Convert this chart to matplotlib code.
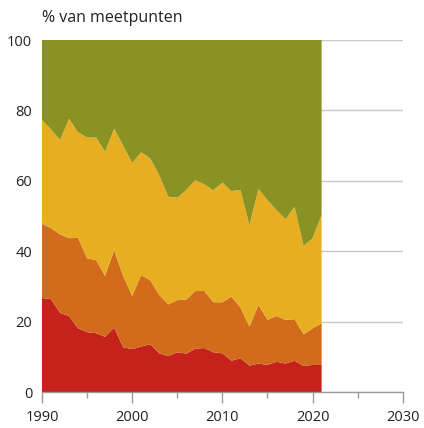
import numpy as np
import matplotlib.pyplot as plt
from matplotlib.ticker import MultipleLocator

plt.rcParams['font.family'] = ['Open Sans', 'DejaVu Sans']

years = list(range(1990, 2022))

# share of measuring points per class (%), bottom to top
red = [26.7, 26.4, 22.5, 21.6, 18.1, 17.0, 16.7, 15.7, 18.3, 12.7, 12.2, 12.9,
       13.6, 11.0, 10.2, 11.3, 10.9, 12.3, 12.5, 11.3, 11.0, 8.9, 9.6, 7.5,
       8.1, 7.7, 8.6, 8.1, 8.9, 7.4, 7.7, 7.7]
orange = [21.1, 20.2, 22.3, 22.1, 25.7, 21.0, 20.8, 17.3, 22.0, 20.3, 15.1, 20.3,
          18.2, 16.6, 14.7, 14.8, 15.4, 16.4, 16.2, 14.2, 14.5, 18.2, 14.4, 11.1,
          16.6, 12.8, 13.0, 12.4, 11.8, 9.0, 10.4, 11.8]
yellow = [29.5, 28.0, 26.8, 33.9, 30.0, 34.3, 34.8, 35.3, 34.5, 37.0, 37.8, 34.9,
          34.6, 34.0, 30.6, 29.1, 31.1, 31.5, 30.3, 31.8, 34.0, 30.0, 33.4, 28.8,
          33.0, 34.0, 30.1, 28.6, 31.9, 25.1, 25.6, 30.8]
green = [22.7, 25.4, 28.4, 22.4, 26.2, 27.7, 27.7, 31.7, 25.2, 30.0, 34.9, 31.9,
         33.6, 38.4, 44.5, 44.8, 42.6, 39.8, 41.0, 42.7, 40.5, 42.9, 42.6, 52.6,
         42.3, 45.5, 48.3, 50.9, 47.4, 58.5, 56.3, 49.7]

colors = ["#c4221b", "#d36b1c", "#e7ae21", "#8b9224"]

fig = plt.figure(figsize=(4.24, 4.28), dpi=100)
ax = fig.add_axes([0.099, 0.084, 0.851, 0.8225])

ax.stackplot(years, red, orange, yellow, green, colors=colors,
             linewidth=0, zorder=2)

ax.set_xlim(1990, 2030)
ax.set_ylim(0, 100)
ax.set_yticks(range(0, 101, 20))
ax.set_xticks(range(1990, 2031, 10))
ax.xaxis.set_minor_locator(MultipleLocator(5))

ax.grid(axis="y", color="#c8c8c8", linewidth=1, zorder=0)
ax.set_axisbelow(True)

for s in ["top", "right", "left"]:
    ax.spines[s].set_visible(False)
ax.spines["bottom"].set_color("#9a9a9a")
ax.spines["bottom"].set_linewidth(1)
ax.spines["bottom"].set_zorder(3)

ax.tick_params(axis="y", length=0, pad=7, labelsize=10.5, labelcolor="#222222")
ax.tick_params(axis="x", which="major", length=8, width=1, color="#9a9a9a",
               pad=5, labelsize=10.5, labelcolor="#222222")
ax.tick_params(axis="x", which="minor", length=4, width=1, color="#9a9a9a")

fig.text(0.099, 0.958, "% van meetpunten", fontsize=11.5, color="#222222",
         ha="left", va="center")

fig.savefig("out.png", dpi=100)
